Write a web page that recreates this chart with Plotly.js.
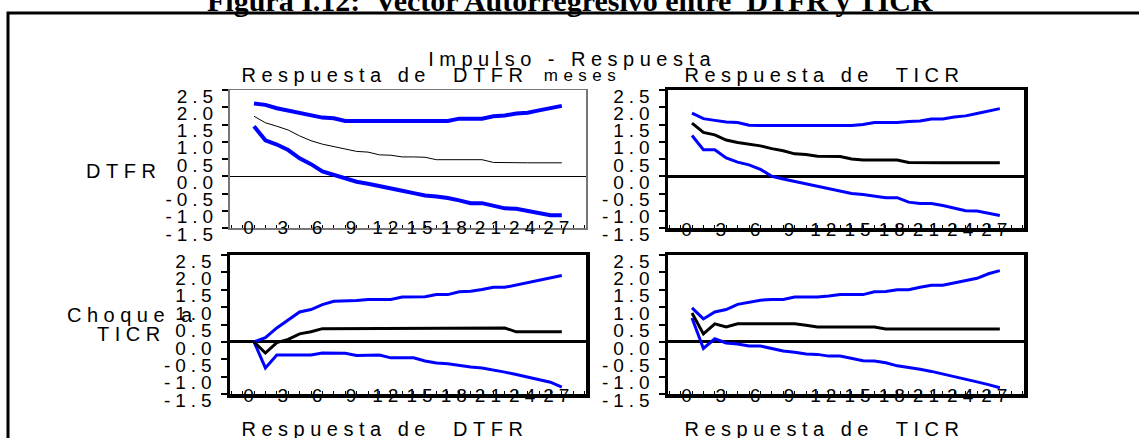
<!DOCTYPE html>
<html>
<head>
<meta charset="utf-8">
<script src="https://cdn.plot.ly/plotly-3.0.1.min.js"></script>
<style>
  html, body { margin: 0; padding: 0; background: #fff; }
  #chart { width: 1139px; height: 438px; }
  text { letter-spacing: 5px; white-space: pre; }
  .annotation text { letter-spacing: 5.5px; }
  .annotation[data-index="0"] text { letter-spacing: 0px; }
</style>
</head>
<body>
<div id="chart"></div>
<script>
// ---- data ----
const periods = [0,1,2,3,4,5,6,7,8,9,10,11,12,13,14,15,16,17,18,19,20,21,22,23,24,25,26,27];
const xTickVals = [0,3,6,9,12,15,18,21,24,27];
const xTickText = ["0","3","6","9","12","15","18","21","24","27"];
const yTickVals = [2.5,2.0,1.5,1.0,0.5,0.0,-0.5,-1.0,-1.5];
const yTickText = ["2.5","2.0","1.5","1.0","0.5","0.0","-0.5","-1.0","-1.5"];

// Respuesta de DTFR a choque en DTFR
const tlUpper = [2.11,2.07,1.97,1.90,1.83,1.76,1.70,1.68,1.60,1.60,1.60,1.60,1.60,1.60,1.60,1.60,1.60,1.60,1.67,1.67,1.67,1.74,1.76,1.82,1.84,1.91,1.98,2.04];
const tlResp  = [1.74,1.55,1.45,1.34,1.17,1.03,0.93,0.86,0.79,0.72,0.70,0.62,0.61,0.56,0.56,0.55,0.48,0.48,0.48,0.48,0.48,0.40,0.39,0.39,0.39,0.39,0.39,0.39];
const tlLower = [1.45,1.04,0.92,0.76,0.52,0.35,0.14,0.05,-0.06,-0.16,-0.22,-0.28,-0.34,-0.42,-0.49,-0.56,-0.59,-0.63,-0.70,-0.78,-0.78,-0.86,-0.93,-0.94,-1.00,-1.05,-1.13,-1.13];
// Respuesta de TICR a choque en DTFR
const trUpper = [1.83,1.67,1.62,1.57,1.56,1.48,1.47,1.47,1.47,1.47,1.47,1.47,1.47,1.47,1.47,1.50,1.56,1.56,1.56,1.59,1.60,1.66,1.66,1.72,1.75,1.82,1.90,1.96];
const trResp  = [1.54,1.27,1.20,1.05,0.98,0.93,0.88,0.80,0.74,0.65,0.63,0.58,0.57,0.57,0.50,0.47,0.47,0.47,0.47,0.40,0.39,0.39,0.39,0.39,0.39,0.39,0.39,0.39];
const trLower = [1.18,0.77,0.77,0.53,0.41,0.33,0.20,0.00,-0.08,-0.15,-0.24,-0.30,-0.36,-0.43,-0.50,-0.53,-0.58,-0.62,-0.62,-0.75,-0.79,-0.79,-0.85,-0.93,-1.00,-1.01,-1.08,-1.14];
// Respuesta de DTFR a choque en TICR
const blUpper = [0.00,0.12,0.40,0.62,0.86,0.93,1.07,1.17,1.17,1.19,1.22,1.22,1.22,1.29,1.29,1.30,1.36,1.36,1.44,1.46,1.51,1.57,1.57,1.64,1.72,1.77,1.84,1.91];
const blResp  = [0.00,-0.32,-0.02,0.07,0.23,0.29,0.38,0.38,0.38,0.38,0.40,0.40,0.40,0.40,0.40,0.40,0.40,0.40,0.40,0.40,0.40,0.40,0.40,0.29,0.29,0.29,0.29,0.29];
const blLower = [0.00,-0.75,-0.38,-0.38,-0.38,-0.38,-0.32,-0.32,-0.33,-0.39,-0.38,-0.38,-0.46,-0.46,-0.46,-0.55,-0.61,-0.63,-0.68,-0.72,-0.75,-0.80,-0.87,-0.94,-1.01,-1.07,-1.16,-1.30];
// Respuesta de TICR a choque en TICR
const brUpper = [0.98,0.66,0.86,0.93,1.08,1.15,1.20,1.22,1.22,1.29,1.29,1.29,1.32,1.36,1.36,1.36,1.44,1.45,1.50,1.50,1.57,1.63,1.63,1.70,1.77,1.83,1.96,2.05];
const brResp  = [0.83,0.23,0.52,0.43,0.52,0.52,0.52,0.52,0.52,0.52,0.48,0.43,0.43,0.43,0.43,0.43,0.43,0.37,0.37,0.37,0.37,0.37,0.37,0.37,0.37,0.37,0.37,0.37];
const brLower = [0.69,-0.19,0.09,-0.03,-0.06,-0.12,-0.12,-0.20,-0.26,-0.30,-0.35,-0.36,-0.41,-0.41,-0.48,-0.54,-0.55,-0.60,-0.69,-0.73,-0.79,-0.85,-0.92,-1.00,-1.06,-1.15,-1.23,-1.32];

// ---- figure ----
const W = 1139, H = 438;
const px = v => v / W;
const py = v => 1 - v / H;
const BLUE = '#0000ff';
const FONT = 'Liberation Sans, Arial, sans-serif';

function line(x, y, xa, ya, color, width) {
  return { x: x, y: y, xaxis: xa, yaxis: ya, type: 'scatter', mode: 'lines',
           line: { color: color, width: width, shape: 'linear' }, hoverinfo: 'skip' };
}

const traces = [
  line(periods, tlUpper, 'x', 'y', BLUE, 4),
  line(periods, tlLower, 'x', 'y', BLUE, 4),
  line(periods, tlResp, 'x', 'y', '#000', 1),
  line(periods, trUpper, 'x2', 'y2', BLUE, 3),
  line(periods, trLower, 'x2', 'y2', BLUE, 3),
  line(periods, trResp, 'x2', 'y2', '#000', 3),
  line(periods, blUpper, 'x3', 'y3', BLUE, 3),
  line(periods, blLower, 'x3', 'y3', BLUE, 3),
  line(periods, blResp, 'x3', 'y3', '#000', 3),
  line(periods, brUpper, 'x4', 'y4', BLUE, 3),
  line(periods, brLower, 'x4', 'y4', BLUE, 3),
  line(periods, brResp, 'x4', 'y4', '#000', 3)
];

const tickFont = { family: FONT, size: 19, color: '#000' };
function xAxis(domain, anchor, lc, lw) {
  return {
    domain: domain, anchor: anchor, range: [-2.105, 29.12],
    tickmode: 'array', tickvals: xTickVals, ticktext: xTickText, tickangle: 0,
    tickfont: tickFont, ticks: 'inside', ticklen: 3, tickwidth: 1, tickcolor: '#000',
    ticklabelstandoff: -18, ticklabelshift: -3,
    minor: { tickmode: 'linear', dtick: 1, ticks: 'inside', ticklen: 3, tickwidth: 1, tickcolor: '#000' },
    showline: true, mirror: true, linecolor: lc, linewidth: lw,
    showgrid: false, zeroline: false, fixedrange: true
  };
}
function yAxis(domain, anchor, lc, lw, zw) {
  return {
    domain: domain, anchor: anchor, range: [-1.5, 2.5],
    tickmode: 'array', tickvals: yTickVals, ticktext: yTickText,
    tickfont: tickFont, ticks: 'outside', ticklen: 6, tickwidth: 2, tickcolor: '#000',
    ticklabelstandoff: 0, ticklabelshift: 6,
    showline: true, mirror: true, linecolor: lc, linewidth: lw,
    showgrid: false, zeroline: true, zerolinecolor: '#000', zerolinewidth: zw, fixedrange: true
  };
}

const xL = [px(230), px(586)], xR = [px(668), px(1024)];
const yT = [py(228), py(90)], yB = [py(394), py(255)];

function ann(text, x, y, size, extra) {
  return Object.assign({ text: text, x: px(x), y: py(y), xref: 'paper', yref: 'paper',
    xanchor: 'center', yanchor: 'middle', showarrow: false,
    font: { family: FONT, size: size, color: '#000' } }, extra || {});
}

const layout = {
  width: W, height: H, margin: { l: 0, r: 0, t: 0, b: 0 },
  paper_bgcolor: '#fff', plot_bgcolor: '#fff', showlegend: false,
  xaxis: xAxis(xL, 'y', '#777', 1.5),
  yaxis: yAxis(yT, 'x', '#777', 2, 1),
  xaxis2: xAxis(xR, 'y2', '#000', 3.5),
  yaxis2: yAxis(yT, 'x2', '#000', 3.5, 3),
  xaxis3: xAxis(xL, 'y3', '#000', 3.5),
  yaxis3: yAxis(yB, 'x3', '#000', 3.5, 3),
  xaxis4: xAxis(xR, 'y4', '#000', 3.5),
  yaxis4: yAxis(yB, 'x4', '#000', 3.5, 3),
  annotations: [
    ann('Figura I.12:  Vector Autorregresivo entre  DTFR y TICR', 570, 0, 30,
        { font: { family: 'Liberation Serif, Times New Roman, serif', size: 30, color: '#000', weight: 'bold' } }),
    ann('Impulso - Respuesta', 572, 59, 20),
    ann('Respuesta de  DTFR', 385, 75, 20),
    ann('meses', 582, 75, 17),
    ann('Respuesta de  TICR', 824, 75, 20),
    ann('DTFR', 123, 171, 20),
    ann('Choque a', 132, 315, 20),
    ann('TICR', 131, 334, 20),
    ann('Respuesta de  DTFR', 385, 429, 20),
    ann('Respuesta de  TICR', 824, 429, 20)
  ],
  shapes: [
    { type: 'path', xref: 'paper', yref: 'paper',
      path: 'M ' + px(8) + ' ' + py(440) + ' L ' + px(8) + ' ' + py(13) + ' L ' + px(1141) + ' ' + py(13),
      line: { color: '#000', width: 3 } }
  ]
};

Plotly.newPlot('chart', traces, layout, { staticPlot: true, displayModeBar: false });
</script>
</body>
</html>
